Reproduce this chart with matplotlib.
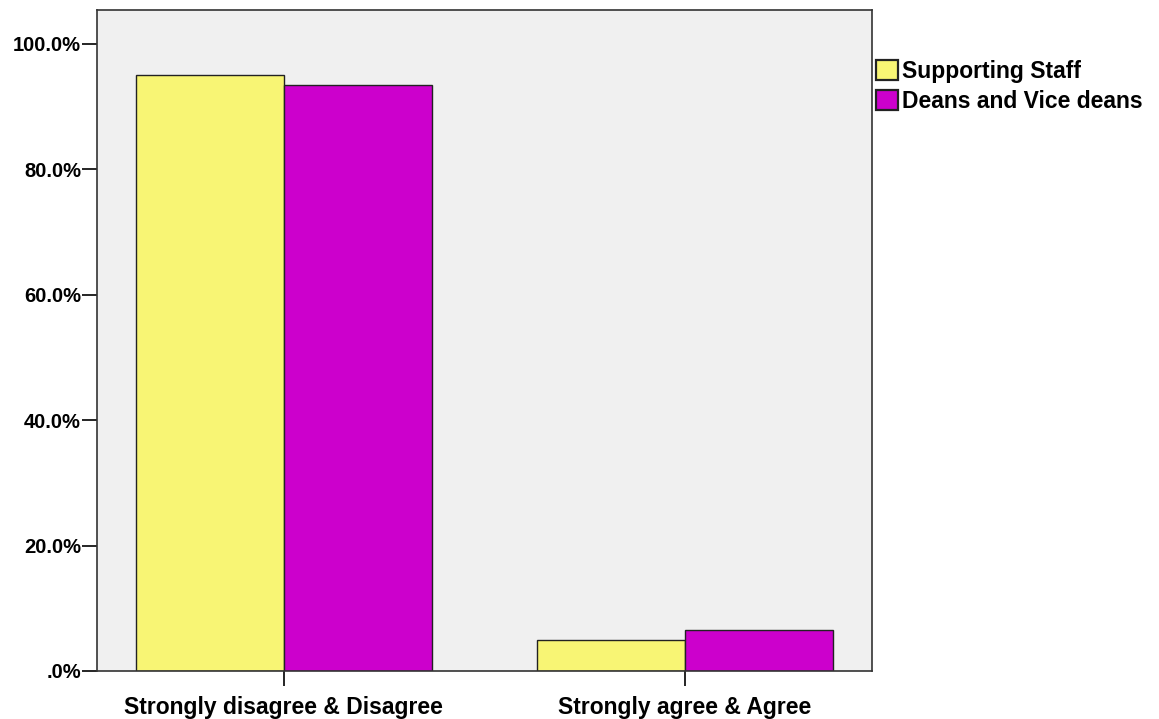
import matplotlib.pyplot as plt
import numpy as np
from matplotlib.ticker import FuncFormatter

categories = ["Strongly disagree & Disagree", "Strongly agree & Agree"]
series_names = ["Supporting Staff", "Deans and Vice deans"]
supporting_staff = [95.1, 4.9]
deans = [93.4, 6.6]

colors = ["#F8F574", "#CC00CC"]

plt.rcParams["font.family"] = ["Liberation Sans", "DejaVu Sans"]
plt.rcParams["font.weight"] = "bold"

fig = plt.figure(figsize=(11.59, 7.19), dpi=100)
ax = fig.add_axes([97 / 1159, 1 - 671 / 719, (872 - 97) / 1159, (671 - 10) / 719])
ax.set_facecolor("#F0F0F0")

x = np.arange(len(categories))
w = 0.37
for vals, name, col, off in zip([supporting_staff, deans], series_names, colors, [-w / 2, w / 2]):
    ax.bar(x + off, vals, width=w, color=col, edgecolor="#222222", linewidth=1.0, label=name)

ax.set_xlim(-0.466, 1.466)
ax.set_ylim(0, 105.4)
ax.set_yticks([0, 20, 40, 60, 80, 100])
ax.yaxis.set_major_formatter(FuncFormatter(lambda v, _: ".0%" if v == 0 else f"{v:.1f}%"))
ax.set_xticks(x)
ax.set_xticklabels(categories)
ax.tick_params(axis="y", length=11, width=1.2, labelsize=14.5, pad=0.5)
ax.tick_params(axis="x", length=11, width=1.2, labelsize=16.5, pad=7)
for lab in ax.get_xticklabels() + ax.get_yticklabels():
    lab.set_fontweight("bold")
for sp in ax.spines.values():
    sp.set_color("#333333")
    sp.set_linewidth(1.2)

leg = ax.legend(loc="upper left", bbox_to_anchor=(1.005, 0.924), frameon=False,
                prop={"weight": "bold", "size": 16.5}, handlelength=0.95, handleheight=0.95,
                handletextpad=0.17, labelspacing=0.3, borderaxespad=0.0, borderpad=0.0)
for p in leg.get_patches():
    p.set_linewidth(1.6)

fig.savefig("out.png", dpi=100)
